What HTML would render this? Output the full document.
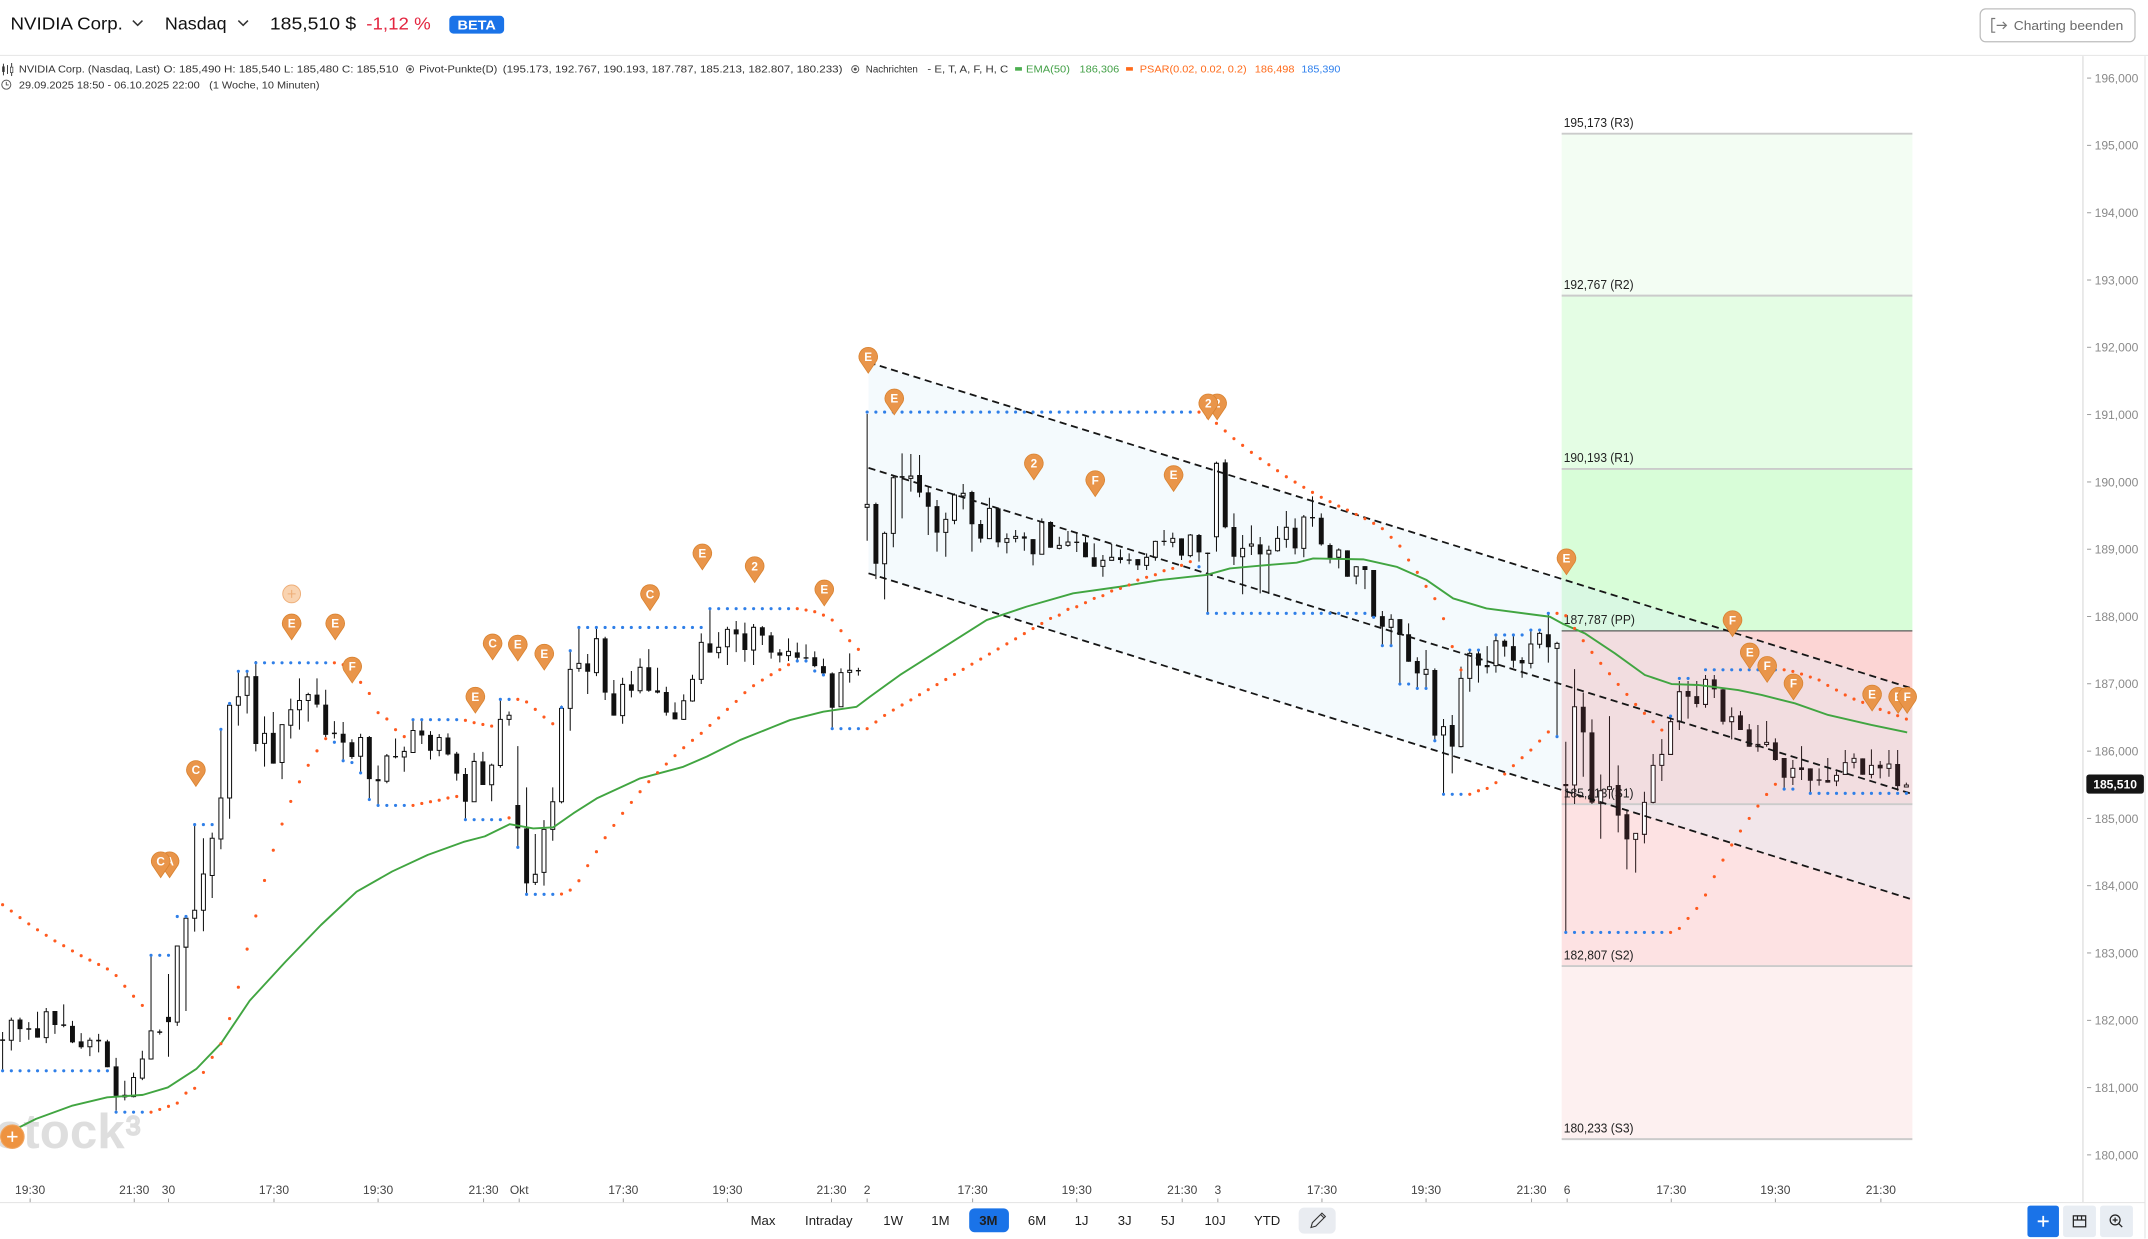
<!DOCTYPE html>
<html><head><meta charset="utf-8"><title>NVIDIA Chart</title><style>
html,body{margin:0;padding:0;background:#fff;overflow:hidden;width:2148px;height:1239px}
svg{display:block;font-family:"Liberation Sans",Arial,sans-serif}
.pin use{fill:#e9954a;stroke:#d98331;stroke-width:.6}
.pin text{fill:#fff;font-weight:bold;font-size:8.6px;text-anchor:middle}
.ya text{font-size:9px;fill:#8a8a8a}
.xa text{font-size:8.8px;fill:#444;text-anchor:middle}
.tb text{font-size:9.6px;fill:#1f1f1f;text-anchor:middle}
</style></head><body>
<svg width="2148" height="1239" viewBox="0 0 1568 904.4" preserveAspectRatio="none" xmlns="http://www.w3.org/2000/svg">
<defs><path id="pin" d="M-6.2,2.8A6.8,6.8 0 1 1 6.2,2.8L0,12Z"/></defs>
<rect x="0" y="0" width="1568" height="905" fill="#fff"/>

<!-- header -->
<text x="7.7" y="21.4" font-size="13" fill="#111" textLength="82" lengthAdjust="spacingAndGlyphs">NVIDIA Corp.</text>
<polyline points="97,15 100.5,18.5 104,15" fill="none" stroke="#333" stroke-width="1.1"/>
<text x="120.4" y="21.4" font-size="13" fill="#111" textLength="45" lengthAdjust="spacingAndGlyphs">Nasdaq</text>
<polyline points="174,15 177.5,18.5 181,15" fill="none" stroke="#333" stroke-width="1.1"/>
<text x="197" y="21.4" font-size="13" fill="#111" textLength="63" lengthAdjust="spacingAndGlyphs">185,510 $</text>
<text x="267.4" y="21.4" font-size="13" fill="#e3253f" textLength="47" lengthAdjust="spacingAndGlyphs">-1,12 %</text>
<rect x="328" y="11.5" width="40" height="13" rx="3" fill="#1a73e8"/>
<text x="334" y="21.6" font-size="9.5" font-weight="bold" fill="#fff" textLength="28" lengthAdjust="spacingAndGlyphs">BETA</text>
<rect x="1445.5" y="6.5" width="113" height="24" rx="4" fill="#fff" stroke="#bdbdbd" stroke-width="0.9"/>
<path d="M1456.5,13.5h-2.5v10h2.5" fill="none" stroke="#777" stroke-width="0.9"/>
<path d="M1457.5,18.5h7M1462,16l2.6,2.5-2.6,2.5" fill="none" stroke="#777" stroke-width="0.9"/>
<text x="1470" y="22" font-size="9.5" fill="#6b6b6b" textLength="80" lengthAdjust="spacingAndGlyphs">Charting beenden</text>
<line x1="0" y1="40.5" x2="1568" y2="40.5" stroke="#e8e8e8" stroke-width="0.8"/>

<!-- legend -->
<g stroke="#333" stroke-width="0.7"><line x1="2.5" y1="46.5" x2="2.5" y2="55"/><line x1="5.5" y1="47.5" x2="5.5" y2="54"/><line x1="8.5" y1="46" x2="8.5" y2="55.5"/></g>
<rect x="1.6" y="48.5" width="1.8" height="4" fill="#333"/><rect x="7.6" y="49" width="1.8" height="4" fill="#fff" stroke="#333" stroke-width=".5"/>
<g font-size="7.3" fill="#333">
<text x="13.8" y="53" textLength="103" lengthAdjust="spacingAndGlyphs">NVIDIA Corp. (Nasdaq, Last)</text>
<text x="119.4" y="53" textLength="171.5" lengthAdjust="spacingAndGlyphs">O: 185,490  H: 185,540  L: 185,480  C: 185,510</text>
<text x="306" y="53" textLength="57" lengthAdjust="spacingAndGlyphs">Pivot-Punkte(D)</text>
<text x="367" y="53" textLength="248" lengthAdjust="spacingAndGlyphs">(195.173,  192.767,  190.193,  187.787,  185.213,  182.807,  180.233)</text>
<text x="632" y="53" textLength="38" lengthAdjust="spacingAndGlyphs">Nachrichten</text>
<text x="677" y="53" textLength="59" lengthAdjust="spacingAndGlyphs">- E, T, A, F, H, C</text>
<text x="749" y="53" fill="#43a047" textLength="32" lengthAdjust="spacingAndGlyphs">EMA(50)</text>
<text x="788" y="53" fill="#43a047" textLength="29" lengthAdjust="spacingAndGlyphs">186,306</text>
<text x="832" y="53" fill="#ff6a1a" textLength="78" lengthAdjust="spacingAndGlyphs">PSAR(0.02, 0.02, 0.2)</text>
<text x="916" y="53" fill="#ff6a1a" textLength="29" lengthAdjust="spacingAndGlyphs">186,498</text>
<text x="950" y="53" fill="#2f80ed" textLength="28.5" lengthAdjust="spacingAndGlyphs">185,390</text>
<text x="13.8" y="64.5" textLength="132" lengthAdjust="spacingAndGlyphs">29.09.2025 18:50 - 06.10.2025 22:00</text>
<text x="152.7" y="64.5" textLength="80.5" lengthAdjust="spacingAndGlyphs">(1 Woche, 10 Minuten)</text>
</g>
<g fill="none" stroke="#555" stroke-width="0.7"><circle cx="299.3" cy="50.5" r="2.6"/><circle cx="624.3" cy="50.5" r="2.6"/><circle cx="4.6" cy="61.8" r="3.3"/><path d="M4.6,59.8v2.2h1.8"/></g>
<circle cx="299.3" cy="50.5" r="1.1" fill="#555"/><circle cx="624.3" cy="50.5" r="1.1" fill="#555"/>
<rect x="741" y="49" width="5" height="2.6" fill="#4caf50"/>
<rect x="822" y="49" width="5" height="2.6" fill="#ff6a1a"/>

<!-- watermark -->
<text x="-3" y="838" font-size="36" font-weight="bold" fill="#dedede">stock</text>
<text x="92" y="828" font-size="19" fill="none" stroke="#dedede" stroke-width="1.6">3</text>

<!-- pivot zones -->
<rect x="1140" y="97.6" width="256" height="118.2" fill="#f3fdf3"/>
<rect x="1140" y="215.8" width="256" height="126.5" fill="#e4fde4"/>
<rect x="1140" y="342.3" width="256" height="118.2" fill="#d8fdd8"/>
<rect x="1140" y="460.5" width="256" height="126.5" fill="#fcd5d4"/>
<rect x="1140" y="587" width="256" height="118.2" fill="#fde2e3"/>
<rect x="1140" y="705.2" width="256" height="126.3" fill="#fdf0f0"/>
<polygon points="634,264.5 1396,502.6 1396,656.6 634,418.5" fill="rgba(222,238,248,0.32)"/>
<g stroke="#cbcbcb" stroke-width="1.4">
<line x1="1140" y1="97.6" x2="1396" y2="97.6"/><line x1="1140" y1="215.8" x2="1396" y2="215.8"/><line x1="1140" y1="342.3" x2="1396" y2="342.3"/>
<line x1="1140" y1="587" x2="1396" y2="587"/><line x1="1140" y1="705.2" x2="1396" y2="705.2"/><line x1="1140" y1="831.5" x2="1396" y2="831.5"/>
</g>
<line x1="1140" y1="460.5" x2="1396" y2="460.5" stroke="#5a5a5a" stroke-width="0.9"/>
<g font-size="9.3" fill="#222">
<text x="1141.5" y="92.6" textLength="51" lengthAdjust="spacingAndGlyphs">195,173 (R3)</text>
<text x="1141.5" y="210.9" textLength="51" lengthAdjust="spacingAndGlyphs">192,767 (R2)</text>
<text x="1141.5" y="337.4" textLength="51" lengthAdjust="spacingAndGlyphs">190,193 (R1)</text>
<text x="1141.5" y="455.6" textLength="52" lengthAdjust="spacingAndGlyphs">187,787 (PP)</text>
<text x="1141.5" y="582.2" textLength="51" lengthAdjust="spacingAndGlyphs">185,213 (S1)</text>
<text x="1141.5" y="700.4" textLength="51" lengthAdjust="spacingAndGlyphs">182,807 (S2)</text>
<text x="1141.5" y="826.7" textLength="51" lengthAdjust="spacingAndGlyphs">180,233 (S3)</text>
</g>

<!-- candles: wicks -->
<path fill="none" stroke="#111" stroke-width="0.75" d="M1.9 753.3V781.1M8.25 742.8V766.8M14.6 742.8V760.6M21 746.1V759M27.4 738.5V757.4M33.75 735.8V761.4M40.1 738V754.7M46.5 733.1V749.8M52.9 745.2V761.4M59.25 754.1V765.5M65.6 757.4V770.9M72 754.7V768.2M78.4 759V779M84.75 772.2V810.7M91.1 788.9V803.2M97.5 783V801M103.9 767V788.4M110.25 697.5V773.5M116.6 751.5V755.2M123 711V771.4M129.4 690.5V748.8M135.75 670.3V738M142.1 601.9V680M148.5 611.9V679.8M154.9 607.8V655.5M161.25 532.4V619.9M167.6 513.5V597.6M174 490V529.7M180.4 490V520.8M186.75 482.5V548.5M193.1 522.9V559.6M199.5 519.7V557.4M205.9 528.9V568.7M212.25 510V539.1M218.6 495.2V532.6M225 505.7V526.7M231.4 495.2V516.4M237.75 503.5V538M244.1 526.4V539.1M250.5 527V554.7M256.9 539.6V553.9M263.25 535.6V564.2M269.6 537.2V584.4M276 558.8V587.6M282.4 550.4V571.7M288.75 539.1V553.6M295.1 545V563.3M301.5 525.1V549.3M307.9 525.6V543.1M314.25 533.7V554.4M320.6 535.9V552M327 535.3V551.5M333.4 548.8V569.8M339.75 560.6V598.4M346.1 549.6V585.4M352.5 548.8V573M358.9 557.4V584.9M365.25 511.3V560.4M371.6 519.4V529.7M378 544.6V618M384.4 574.7V652.6M390.75 608.8V646M397.1 598.6V646.5M403.5 574.7V613.7M409.9 515.1V586.4M416.25 474.5V533.4M422.6 457.9V490.3M429 477.4V506.6M435.4 457.9V493.5M441.75 464.8V511M448.1 496.4V522.4M454.5 494.7V528.3M460.9 489.8V509M467.25 480.6V506.1M473.6 473.8V504.9M480 487.4V506.1M486.4 501.3V522.4M492.75 512.7V525.1M499.1 506.9V525.6M505.5 492.5V512.2M511.9 462.3V499.3M518.25 444.6V476.4M524.6 461.4V480.6M531 457.5V485.4M537.4 453.3V476M543.75 454.5V483M550.1 455.5V485.4M556.5 457V470.8M562.9 461.4V480.8M569.25 473.8V483.5M575.6 466V482.5M582 469.1V482.5M588.4 470.4V481.3M594.75 475.5V487.1M601.1 480.8V492.7M607.5 490.8V531.9M613.9 487.9V515.9M620.25 476.9V498.3M626.6 487.4V493.2M633 302.2V394.7M639.4 366.9V422.7M645.75 388.1V437.5M652.1 346.7V399.5M658.5 330.9V378.4M664.9 331.4V358.9M671.25 332.1V363M677.6 355.3V390.5M684 365V402.7M690.4 374.2V406.4M696.75 360.1V382.7M703.1 353.3V371.8M709.5 358.2V402.7M715.9 379.6V396.1M722.25 363.3V393.5M728.6 370.6V399.5M735 389.3V403.9M741.4 386.9V395.9M747.75 388.6V402M754.1 393.5V412.7M760.5 378.4V404.6M766.9 380.6V399.8M773.25 391.8V401M779.6 387.6V399.1M786 389.3V402.9M792.4 391.8V406.8M798.75 396.6V413.7M805.1 405.1V421M811.5 397.1V409M817.9 401V411.2M824.25 403.9V411.9M830.6 408.1V416.1M837 403.9V416.1M843.4 394.7V409.3M849.75 386.9V398.3M856.1 388.8V399.5M862.5 393V408.8M868.9 389.8V406.8M875.25 389.8V410M881.6 403.4V447.7M888 337V402.7M894.4 335.3V385.7M900.75 374.7V412.4M907.1 390.5V433.8M913.5 383.5V405.1M919.9 392V433.1M926.25 398.3V433.6M932.6 384V402.7M939 373V399.8M945.4 378.4V404.7M951.75 375.9V406.8M958.1 362.3V384.5M964.5 374.7V398.3M970.9 396.6V411.2M977.25 400.3V414.9M983.6 401.7V421M990 413.2V426.5M996.4 413.2V430M1002.75 416.1V451.4M1009.1 446V470.8M1015.5 448.4V470.8M1021.9 451.9V499.3M1028.25 455V483M1034.6 479.8V502.5M1041 474.5V502.5M1047.4 487.9V540.7M1053.75 524.8V579.8M1060.1 521.9V564.5M1066.5 486.6V545.5M1072.9 474V504.9M1079.25 474.5V498.3M1085.6 471.6V491.5M1092 463.5V491M1098.4 466.7V479.3M1104.75 464.3V487.4M1111.1 479.8V494.7M1117.5 459.9V487.9M1123.9 461.1V473.3M1130.25 447.7V483.7M1136.6 468.4V537.7"/>
<path fill="none" stroke="#2a1a1d" stroke-width="0.75" d="M1143 541.4V680.6M1149.4 488.4V586.9M1155.75 505.6V567M1162.1 525.1V586.9M1168.5 565.3V612.2M1174.9 522.7V583M1181.25 558.7V607.6M1187.6 590.8V634.6M1194 608.3V637M1200.4 577.9V615.6M1206.75 550.4V586.4M1213.1 539.5V570.1M1219.5 521.9V550.7M1225.9 497.1V532.9M1232.25 497.1V524.6M1238.6 497.1V516.3M1245 492.7V516.6M1251.4 492.7V509.5M1257.75 502V528.8M1264.1 516.3V539.7M1270.5 519V532.9M1276.9 528.5V545.1M1283.25 529.2V548.7M1289.6 526.3V545.1M1296 539V555.3M1302.4 553.3V575M1308.75 554.8V573M1315.1 544.6V569.4M1321.5 560.9V579.1M1327.9 560.9V573.5M1334.25 553.3V571.3M1340.6 563.1V573.8M1347 547.5V565.3M1353.4 549.9V560.9M1359.75 553.6V565.5M1366.1 547V568.2M1372.5 555.5V568.2M1378.9 547.5V567M1385.25 547.5V577.2M1391.6 571.3V574.7"/>
<!-- white bodies -->
<path fill="#fff" stroke="#111" stroke-width="0.75" d="M6.8 744.7h2.9V759.3h-2.9zM32.3 738.5h2.9V757.4h-2.9zM64.15 759.3h2.9V764.1h-2.9zM96.05 786.5h2.9V800.5h-2.9zM102.45 773h2.9V787h-2.9zM108.8 752.5h2.9V773h-2.9zM127.95 690.5h2.9V746.1h-2.9zM134.3 670.3h2.9V691.4h-2.9zM140.65 664.4h2.9V670.3h-2.9zM147.05 638h2.9V664.4h-2.9zM153.45 611.9h2.9V639.1h-2.9zM159.8 582.5h2.9V612.4h-2.9zM166.15 514.8h2.9V582.5h-2.9zM172.55 508.6h2.9V514.8h-2.9zM178.95 494.1h2.9V507.6h-2.9zM191.65 535.3h2.9V542.6h-2.9zM204.45 528.9h2.9V556.6h-2.9zM210.8 518.1h2.9V529.4h-2.9zM217.15 511.3h2.9V518.1h-2.9zM223.55 507h2.9V511.3h-2.9zM261.8 538.3h2.9V552h-2.9zM280.95 551.8h2.9V570.3h-2.9zM293.65 548.5h2.9V552.6h-2.9zM300.05 533.2h2.9V549.3h-2.9zM319.15 538.3h2.9V547.7h-2.9zM344.65 555.8h2.9V585.2h-2.9zM357.45 558.5h2.9V572.8h-2.9zM363.8 525.1h2.9V558.8h-2.9zM370.15 522.1h2.9V525.1h-2.9zM389.3 638.2h2.9V644.1h-2.9zM395.65 605.4h2.9V636.8h-2.9zM402.05 585.2h2.9V605.4h-2.9zM408.45 517.1h2.9V585.2h-2.9zM414.8 488.6h2.9V517.1h-2.9zM421.15 484.2h2.9V487.9h-2.9zM433.95 466.2h2.9V491h-2.9zM453.05 499.6h2.9V522.4h-2.9zM465.8 487.1h2.9V504.2h-2.9zM497.65 511.5h2.9V525.1h-2.9zM504.05 495.9h2.9V511.7h-2.9zM510.45 468.9h2.9V495.9h-2.9zM523.15 472.5h2.9V476.4h-2.9zM529.55 459.4h2.9V472.1h-2.9zM548.65 457.9h2.9V474.5h-2.9zM574.15 475.5h2.9V478.6h-2.9zM612.45 491h2.9V515.9h-2.9zM618.8 489.3h2.9V490.8h-2.9zM631.55 368.2h2.9V370.3h-2.9zM644.3 389.3h2.9V411.5h-2.9zM650.65 348.7h2.9V389.3h-2.9zM663.45 347.5h2.9V349.2h-2.9zM688.95 379.1h2.9V388.6h-2.9zM695.3 361.3h2.9V379.8h-2.9zM701.65 360.1h2.9V362.1h-2.9zM720.8 371.1h2.9V393.2h-2.9zM733.55 393.2h2.9V395.9h-2.9zM739.95 391.5h2.9V393h-2.9zM759.05 380.8h2.9V404.6h-2.9zM771.8 398.1h2.9V400.3h-2.9zM778.15 395.6h2.9V398.1h-2.9zM803.65 409h2.9V413.4h-2.9zM810.05 406.8h2.9V409h-2.9zM835.55 406.8h2.9V412.7h-2.9zM841.95 395.2h2.9V406.8h-2.9zM854.65 393h2.9V395.9h-2.9zM867.45 390.5h2.9V405.6h-2.9zM886.55 338.2h2.9V391.8h-2.9zM905.65 400.3h2.9V406.4h-2.9zM912.05 397.1h2.9V398.6h-2.9zM924.8 401.7h2.9V404.4h-2.9zM931.15 393h2.9V402h-2.9zM937.55 384.9h2.9V393.7h-2.9zM950.3 377.4h2.9V400.3h-2.9zM975.8 401.5h2.9V406.8h-2.9zM988.55 413.7h2.9V420.5h-2.9zM1014.05 452.1h2.9V457.9h-2.9zM1039.55 488.6h2.9V492.2h-2.9zM1052.3 530.4h2.9V536.5h-2.9zM1065.05 495.2h2.9V545h-2.9zM1071.45 476.9h2.9V495.2h-2.9zM1090.55 467.7h2.9V485.9h-2.9zM1116.05 470.1h2.9V484.2h-2.9zM1122.45 462.3h2.9V470.3h-2.9zM1135.15 469.6h2.9V473.3h-2.9z"/>
<path fill="#fff" stroke="#2a1a1d" stroke-width="0.75" d="M1147.95 515.9h2.9V573h-2.9zM1167.05 577.2h2.9V586.4h-2.9zM1173.45 574.3h2.9V576.2h-2.9zM1192.55 608.3h2.9V612.7h-2.9zM1198.95 585.7h2.9V609h-2.9zM1205.3 558.7h2.9V585.7h-2.9zM1211.65 550.7h2.9V558.7h-2.9zM1218.05 526.8h2.9V550.7h-2.9zM1224.45 504.9h2.9V526.8h-2.9zM1243.55 495.9h2.9V514.2h-2.9zM1262.65 523.2h2.9V526.8h-2.9zM1281.8 543.4h2.9V545.1h-2.9zM1288.15 541.9h2.9V543.4h-2.9zM1307.3 560.9h2.9V567.4h-2.9zM1339.15 566h2.9V570.1h-2.9zM1345.55 556.7h2.9V565.3h-2.9zM1351.95 553.6h2.9V556.5h-2.9zM1364.65 558.7h2.9V565.3h-2.9zM1377.45 557.7h2.9V560.9h-2.9zM1390.15 573h2.9V574.5h-2.9z"/>
<!-- black bodies -->
<path fill="#111" d="M0.1 758.7h3.6V759.8h-3.6zM12.8 744.2h3.6V751.2h-3.6zM19.2 750.6h3.6V751.7h-3.6zM25.6 750.6h3.6V757.4h-3.6zM38.3 738h3.6V748.2h-3.6zM44.7 747.7h3.6V748.8h-3.6zM51.1 748.8h3.6V760.9h-3.6zM57.45 760.1h3.6V764.4h-3.6zM70.2 759h3.6V760.1h-3.6zM76.6 760.1h3.6V779h-3.6zM82.95 778.4h3.6V799.9h-3.6zM89.3 799.1h3.6V801h-3.6zM114.8 752.8h3.6V753.9h-3.6zM121.2 742.3h3.6V746.1h-3.6zM184.95 493.5h3.6V543.1h-3.6zM197.7 535h3.6V557.4h-3.6zM229.6 507h3.6V514.3h-3.6zM235.95 514.3h3.6V536.4h-3.6zM242.3 534.8h3.6V535.9h-3.6zM248.7 535.6h3.6V542.1h-3.6zM255.1 541.8h3.6V552.6h-3.6zM267.8 538h3.6V568.7h-3.6zM274.2 568.7h3.6V570.3h-3.6zM286.95 551.8h3.6V552.8h-3.6zM306.1 533.2h3.6V536.9h-3.6zM312.45 536.4h3.6V548h-3.6zM325.2 538.3h3.6V550.7h-3.6zM331.6 550.1h3.6V564.7h-3.6zM337.95 565h3.6V585.2h-3.6zM350.7 555.8h3.6V573h-3.6zM376.2 587.6h3.6V604.7h-3.6zM382.6 604.7h3.6V644.8h-3.6zM427.2 484.2h3.6V490.3h-3.6zM439.95 466h3.6V505.6h-3.6zM446.3 506.1h3.6V522.4h-3.6zM459.1 499.6h3.6V504.2h-3.6zM471.8 487.1h3.6V504.2h-3.6zM478.2 503.9h3.6V505.6h-3.6zM484.6 505.1h3.6V520.2h-3.6zM490.95 520h3.6V525.1h-3.6zM516.45 469.6h3.6V476.4h-3.6zM535.6 459.4h3.6V463.1h-3.6zM541.95 462.3h3.6V474.5h-3.6zM554.7 457.9h3.6V464h-3.6zM561.1 463.8h3.6V476.4h-3.6zM567.45 476.2h3.6V478.6h-3.6zM580.2 476.2h3.6V480.1h-3.6zM586.6 479.8h3.6V480.8h-3.6zM592.95 479.8h3.6V486.2h-3.6zM599.3 486.2h3.6V491.5h-3.6zM605.7 491.5h3.6V516.6h-3.6zM624.8 489.1h3.6V490.1h-3.6zM637.6 367.9h3.6V411.5h-3.6zM656.7 347.5h3.6V348.7h-3.6zM669.45 346.7h3.6V359.6h-3.6zM675.8 359.4h3.6V369.9h-3.6zM682.2 369.4h3.6V388.8h-3.6zM707.7 359.1h3.6V382.7h-3.6zM714.1 382.5h3.6V393.2h-3.6zM726.8 371.1h3.6V395.9h-3.6zM745.95 391.5h3.6V393.2h-3.6zM752.3 393.5h3.6V404.6h-3.6zM765.1 381h3.6V399.8h-3.6zM784.2 395.4h3.6V396.4h-3.6zM790.6 395.9h3.6V406.8h-3.6zM796.95 406.8h3.6V413.7h-3.6zM816.1 406.8h3.6V408.8h-3.6zM822.45 408.3h3.6V409.3h-3.6zM828.8 408.1h3.6V412.7h-3.6zM847.95 394.7h3.6V395.6h-3.6zM860.7 393h3.6V405.6h-3.6zM873.45 390.5h3.6V403.2h-3.6zM879.8 403.4h3.6V404.4h-3.6zM892.6 337.5h3.6V384.9h-3.6zM898.95 384.7h3.6V406.4h-3.6zM918.1 397.4h3.6V404.7h-3.6zM943.6 385.2h3.6V400.3h-3.6zM956.3 377.4h3.6V378.4h-3.6zM962.7 377.9h3.6V397.4h-3.6zM969.1 397.8h3.6V407.8h-3.6zM981.8 401.7h3.6V421h-3.6zM994.6 413.2h3.6V416.1h-3.6zM1000.95 416.1h3.6V450.2h-3.6zM1007.3 449.7h3.6V457.5h-3.6zM1020.1 451.9h3.6V463.5h-3.6zM1026.45 463h3.6V483h-3.6zM1032.8 482.5h3.6V491.5h-3.6zM1045.6 489.1h3.6V537h-3.6zM1058.3 529.2h3.6V545h-3.6zM1077.45 476.9h3.6V485.9h-3.6zM1083.8 485.4h3.6V487.1h-3.6zM1096.6 467.7h3.6V472h-3.6zM1102.95 471.6h3.6V482.3h-3.6zM1109.3 481.8h3.6V484.2h-3.6zM1128.45 463h3.6V472.5h-3.6z"/>
<path fill="#2a1a1d" d="M1141.2 572.3h3.6V573.8h-3.6zM1153.95 515.9h3.6V534.6h-3.6zM1160.3 534.6h3.6V585.9h-3.6zM1179.45 573h3.6V595.4h-3.6zM1185.8 594.4h3.6V612.7h-3.6zM1230.45 504.4h3.6V508.6h-3.6zM1236.8 508.1h3.6V513.9h-3.6zM1249.6 495.9h3.6V503.2h-3.6zM1255.95 503.2h3.6V526.8h-3.6zM1268.7 522.2h3.6V532.9h-3.6zM1275.1 532.4h3.6V545.1h-3.6zM1294.2 541.9h3.6V554.8h-3.6zM1300.6 553.3h3.6V567.7h-3.6zM1313.3 560.1h3.6V562.1h-3.6zM1319.7 560.9h3.6V569.9h-3.6zM1326.1 568.9h3.6V569.9h-3.6zM1332.45 569.4h3.6V571.3h-3.6zM1357.95 553.6h3.6V565.5h-3.6zM1370.7 558.2h3.6V560.9h-3.6zM1383.45 557.7h3.6V573.8h-3.6z"/>

<!-- channel lines -->
<g stroke="#161616" stroke-width="1.3" stroke-dasharray="5.2 3.4" fill="none">
<line x1="634" y1="264.5" x2="1396" y2="502.6"/>
<line x1="634" y1="341.5" x2="1396" y2="579.6"/>
<line x1="634" y1="418.5" x2="1396" y2="656.6"/>
</g>

<!-- EMA -->
<polyline fill="none" stroke="#41a541" stroke-width="1.4" stroke-linejoin="round" points="0,830 26.3,816.7 52.3,807.2 78.3,801 104.3,799.2 122.5,793.8 143.3,780.3 161.5,761.4 182.3,730.4 208.3,702.1 234.3,675.2 260.3,650.9 286.3,636.1 312.3,624 338.3,614.6 353.9,610.5 372.1,601.6 389.3,604.7 403.9,603.9 418.5,593.7 435.6,582.8 467.2,568.2 498.8,559.7 515.9,552.3 540.2,540.2 564.5,530.5 576.7,525.6 601,519.5 625.3,515.9 635,508.6 657,492.7 720.2,452.6 749.4,442.8 783.4,433.1 817.5,428.3 846.7,423.4 880.7,419.7 897.8,414.9 919.7,412.9 946.5,410.7 958.6,407.6 995.1,408.3 1019.5,413.7 1041.4,423.4 1060.8,436.8 1085.1,444.1 1131.4,450.2 1141.1,455.5 1156.9,462.3 1178.8,476.9 1200.7,492.7 1220.2,499.3 1239.6,500 1268.8,503.7 1285.9,507.3 1310.2,513.4 1334.5,521.9 1366.1,529.2 1392.2,534.6"/>

<!-- PSAR / stop dots -->
<g stroke="#2f7fe8" stroke-width="2.3" stroke-linecap="round" stroke-dasharray="0 6.375" fill="none">
<line x1="110.25" y1="697.3" x2="123.05" y2="697.3"/>
<line x1="129.4" y1="669" x2="135.8" y2="669"/>
<line x1="142.1" y1="601.9" x2="154.95" y2="601.9"/>
<line x1="174" y1="490" x2="180.45" y2="490"/>
<line x1="186.75" y1="483.8" x2="237.8" y2="483.8"/>
<line x1="301.5" y1="525.3" x2="333.45" y2="525.3"/>
<line x1="365.25" y1="510.5" x2="371.65" y2="510.5"/>
<line x1="422.6" y1="458" x2="511.95" y2="458"/>
<line x1="518.25" y1="444.3" x2="575.65" y2="444.3"/>
<line x1="633" y1="300.8" x2="868.95" y2="300.8"/>
<line x1="1072.9" y1="474.5" x2="1085.65" y2="474.5"/>
<line x1="1092" y1="463.5" x2="1111.15" y2="463.5"/>
<line x1="1117.5" y1="459.9" x2="1123.95" y2="459.9"/>
<line x1="1225.9" y1="495.2" x2="1238.65" y2="495.2"/>
<line x1="1245" y1="488.9" x2="1296.05" y2="488.9"/>
<line x1="1.9" y1="781.6" x2="78.45" y2="781.6"/>
<line x1="84.75" y1="811.8" x2="103.95" y2="811.8"/>
<line x1="276" y1="587.9" x2="295.15" y2="587.9"/>
<line x1="339.75" y1="598.3" x2="365.3" y2="598.3"/>
<line x1="384.4" y1="652.8" x2="403.55" y2="652.8"/>
<line x1="582" y1="482.5" x2="588.45" y2="482.5"/>
<line x1="607.5" y1="531.9" x2="626.65" y2="531.9"/>
<line x1="881.6" y1="447.7" x2="996.45" y2="447.7"/>
<line x1="1009.1" y1="471.3" x2="1015.55" y2="471.3"/>
<line x1="1021.9" y1="499.3" x2="1028.3" y2="499.3"/>
<line x1="1034.6" y1="502.5" x2="1041.05" y2="502.5"/>
<line x1="1053.75" y1="579.8" x2="1066.55" y2="579.8"/>
<line x1="1143" y1="680.6" x2="1213.15" y2="680.6"/>
<line x1="1302.4" y1="576" x2="1315.15" y2="576"/>
<line x1="1321.5" y1="579.1" x2="1391.65" y2="579.1"/>
</g>
<path fill="none" stroke="#2f7fe8" stroke-width="2.3" stroke-linecap="round" d="M161.25 532.4h0M167.6 513.5h0M409.9 516.3h0M416.25 475h0M1130.25 447.7h0M1219.5 522.7h0M244.1 541.8h0M250.5 555.3h0M256.9 556.6h0M263.25 564.2h0M269.6 583.6h0M378 618.5h0M594.75 489.8h0M601.1 492.7h0M875.25 413.7h0M1002.75 450.6h0M1047.4 540.7h0M1136.6 537.7h0"/>
<path fill="none" stroke="#ff5a1f" stroke-width="2.3" stroke-linecap="round" d="M1.9 660.4h0M8.25 665h0M14.6 669.8h0M21 674.4h0M27.4 678.7h0M33.75 682.7h0M40.1 686.8h0M46.5 690.3h0M52.9 694.1h0M59.25 697.6h0M65.6 700.8h0M72 704h0M78.4 707.3h0M84.75 712.1h0M91.1 719.9h0M97.5 727.2h0M103.9 733.9h0M244.1 483.8h0M250.5 485.2h0M256.9 491.9h0M263.25 498.1h0M269.6 506.2h0M276 520.2h0M282.4 524.8h0M288.75 532.6h0M295.1 537.7h0M339.75 525.8h0M346.1 527.5h0M352.5 528.8h0M358.9 530h0M378 510.5h0M384.4 512.4h0M390.75 517.8h0M397.1 523.4h0M403.5 528.3h0M582 444.3h0M588.4 445.3h0M594.75 446.5h0M601.1 449h0M607.5 452.6h0M613.9 460.4h0M620.25 467.7h0M626.6 474h0M875.25 300.8h0M881.6 304.6h0M888 309h0M894.4 314.6h0M900.75 320.2h0M907.1 325.1h0M913.5 330.2h0M919.9 334.8h0M926.25 339.2h0M932.6 343.6h0M939 348h0M945.4 351.9h0M951.75 355.7h0M958.1 359.4h0M964.5 363h0M970.9 366.2h0M977.25 369.4h0M983.6 372.3h0M990 375.5h0M996.4 378.6h0M1002.75 382h0M1009.1 385.9h0M1015.5 392.2h0M1021.9 398.6h0M1028.25 408.8h0M1034.6 417.8h0M1041 428h0M1047.4 437h0M1053.75 451.6h0M1060.1 472h0M1066.5 489h0M1136.6 447.7h0M1143 449.4h0M1149.4 458.7h0M1155.75 467.7h0M1162.1 476.2h0M1168.5 484.2h0M1174.9 491.8h0M1181.25 499.6h0M1187.6 506.9h0M1194 514.2h0M1200.4 520.7h0M1206.75 526.8h0M1213.1 532.9h0M1302.4 488.9h0M1308.75 490.1h0M1315.1 492h0M1321.5 494.2h0M1327.9 496.4h0M1334.25 500.3h0M1340.6 503.7h0M1347 507.3h0M1353.4 510.3h0M1359.75 512.7h0M1366.1 515.4h0M1372.5 517.8h0M1378.9 520.2h0M1385.25 522.4h0M1391.6 524.9h0M110.25 811.8h0M116.6 809.8h0M123 807.6h0M129.4 805.2h0M135.75 797.9h0M142.1 794.4h0M148.5 782.8h0M154.9 771.8h0M161.25 761.8h0M167.6 743.5h0M174 720.6h0M180.4 692.8h0M186.75 668.6h0M193.1 642.7h0M199.5 620.6h0M205.9 601.5h0M212.25 585h0M218.6 570.7h0M225 558.6h0M231.4 548.1h0M237.75 539.2h0M301.5 587.9h0M307.9 586.5h0M314.25 585.2h0M320.6 584.1h0M327 582.5h0M333.4 581.4h0M371.6 597h0M409.9 652.6h0M416.25 649.7h0M422.6 642.9h0M429 631.9h0M435.4 621.7h0M441.75 611.5h0M448.1 602.5h0M454.5 593.7h0M460.9 585.7h0M467.25 577.9h0M473.6 570.6h0M480 564h0M486.4 557.7h0M492.75 551.6h0M499.1 545.8h0M505.5 540.4h0M511.9 535.3h0M518.25 529.5h0M524.6 524.1h0M531 517.8h0M537.4 512h0M543.75 505.6h0M550.1 500.5h0M556.5 496.4h0M562.9 492.5h0M569.25 488.8h0M575.6 485.2h0M633 531.9h0M639.4 527h0M645.75 522.2h0M652.1 518.3h0M658.5 514.6h0M664.9 510.9h0M671.25 507.1h0M677.6 503.4h0M684 499.7h0M690.4 496h0M696.75 492.3h0M703.1 488.6h0M709.5 484.8h0M715.9 481.1h0M722.25 477.4h0M728.6 473.7h0M735 470h0M741.4 466.3h0M747.75 462.5h0M754.1 458.8h0M760.5 455.1h0M766.9 451.4h0M773.25 449h0M779.6 444.8h0M786 442.9h0M792.4 439.9h0M798.75 436.8h0M805.1 434.8h0M811.5 431.4h0M817.9 429.5h0M824.25 427h0M830.6 423.4h0M837 421.4h0M843.4 419.5h0M849.75 416.6h0M856.1 414.9h0M862.5 412.7h0M868.9 410h0M1072.9 579.8h0M1079.25 577.2h0M1085.6 575.5h0M1092 571.3h0M1098.4 565h0M1104.75 558.9h0M1111.1 553.1h0M1117.5 547.5h0M1123.9 540.9h0M1130.25 534.3h0M1219.5 680.6h0M1225.9 677.7h0M1232.25 670.4h0M1238.6 663.1h0M1245 653.3h0M1251.4 639.9h0M1257.75 627.8h0M1264.1 616.8h0M1270.5 606.6h0M1276.9 597.4h0M1283.25 588.4h0M1289.6 579.9h0M1296 572.5h0"/>

<!-- pins -->
<circle cx="212.9" cy="433.5" r="6.5" fill="#f9d3b0" stroke="#eeae78" stroke-width="0.7"/>
<path d="M210,433.5h5.8M212.9,430.6v5.8" stroke="#eeae78" stroke-width="0.8"/>
<g class="pin"><use href="#pin" x="212.9" y="455"/><text x="212.9" y="458.1">E</text></g>
<g class="pin"><use href="#pin" x="244.7" y="455"/><text x="244.7" y="458.1">E</text></g>
<g class="pin"><use href="#pin" x="257.1" y="486.5"/><text x="257.1" y="489.6">F</text></g>
<g class="pin"><use href="#pin" x="143" y="562"/><text x="143" y="565.1">C</text></g>
<g class="pin"><use href="#pin" x="123.8" y="628.6"/><text x="123.8" y="631.7">A</text></g>
<g class="pin"><use href="#pin" x="117.3" y="628.6"/><text x="117.3" y="631.7">C</text></g>
<g class="pin"><use href="#pin" x="359.6" y="469.6"/><text x="359.6" y="472.7">C</text></g>
<g class="pin"><use href="#pin" x="378" y="470.4"/><text x="378" y="473.5">E</text></g>
<g class="pin"><use href="#pin" x="397.3" y="477.1"/><text x="397.3" y="480.2">E</text></g>
<g class="pin"><use href="#pin" x="347" y="508.5"/><text x="347" y="511.6">E</text></g>
<g class="pin"><use href="#pin" x="474.5" y="433.6"/><text x="474.5" y="436.7">C</text></g>
<g class="pin"><use href="#pin" x="512.7" y="403.9"/><text x="512.7" y="407">E</text></g>
<g class="pin"><use href="#pin" x="550.9" y="413.2"/><text x="550.9" y="416.3">2</text></g>
<g class="pin"><use href="#pin" x="601.7" y="430.2"/><text x="601.7" y="433.3">E</text></g>
<g class="pin"><use href="#pin" x="633.8" y="260.4"/><text x="633.8" y="263.5">E</text></g>
<g class="pin"><use href="#pin" x="652.8" y="290.8"/><text x="652.8" y="293.9">E</text></g>
<g class="pin"><use href="#pin" x="754.7" y="338.2"/><text x="754.7" y="341.3">2</text></g>
<g class="pin"><use href="#pin" x="799.5" y="350.4"/><text x="799.5" y="353.5">F</text></g>
<g class="pin"><use href="#pin" x="856.7" y="346.7"/><text x="856.7" y="349.8">E</text></g>
<g class="pin"><use href="#pin" x="888.5" y="294.4"/><text x="888.5" y="297.5">2</text></g>
<g class="pin"><use href="#pin" x="882" y="294.4"/><text x="882" y="297.5">2</text></g>
<g class="pin"><use href="#pin" x="1143.5" y="407.5"/><text x="1143.5" y="410.6">E</text></g>
<g class="pin"><use href="#pin" x="1264.7" y="452.6"/><text x="1264.7" y="455.7">F</text></g>
<g class="pin"><use href="#pin" x="1277.3" y="476.2"/><text x="1277.3" y="479.3">E</text></g>
<g class="pin"><use href="#pin" x="1290" y="486"/><text x="1290" y="489.1">F</text></g>
<g class="pin"><use href="#pin" x="1309.2" y="498.8"/><text x="1309.2" y="501.9">F</text></g>
<g class="pin"><use href="#pin" x="1366.6" y="506.9"/><text x="1366.6" y="510">E</text></g>
<g class="pin"><use href="#pin" x="1385.6" y="508.6"/><text x="1385.6" y="511.7">E</text></g>
<g class="pin"><use href="#pin" x="1392.2" y="508.6"/><text x="1392.2" y="511.7">F</text></g>
<circle cx="9" cy="829.7" r="8.6" fill="#ee9340" stroke="#f0a560" stroke-width="0.8"/>
<path d="M5.2,829.7h7.6M9,825.9v7.6" stroke="#fff" stroke-width="1.2"/>

<!-- axes -->
<line x1="1520.5" y1="41" x2="1520.5" y2="877.5" stroke="#d9d9d9" stroke-width="0.8"/>
<line x1="0" y1="877.8" x2="1566" y2="877.8" stroke="#e6e6e6" stroke-width="0.8"/>
<line x1="1565.8" y1="41" x2="1565.8" y2="904" stroke="#e3e3e3" stroke-width="0.8"/>
<g class="ya">
<g stroke="#999" stroke-width="0.7">
<line x1="1523.5" x2="1526.5" y1="57" y2="57"/><line x1="1523.5" x2="1526.5" y1="106.1" y2="106.1"/><line x1="1523.5" x2="1526.5" y1="155.3" y2="155.3"/><line x1="1523.5" x2="1526.5" y1="204.4" y2="204.4"/><line x1="1523.5" x2="1526.5" y1="253.5" y2="253.5"/><line x1="1523.5" x2="1526.5" y1="302.6" y2="302.6"/><line x1="1523.5" x2="1526.5" y1="351.8" y2="351.8"/><line x1="1523.5" x2="1526.5" y1="400.9" y2="400.9"/><line x1="1523.5" x2="1526.5" y1="450" y2="450"/><line x1="1523.5" x2="1526.5" y1="499.1" y2="499.1"/><line x1="1523.5" x2="1526.5" y1="548.3" y2="548.3"/><line x1="1523.5" x2="1526.5" y1="597.4" y2="597.4"/><line x1="1523.5" x2="1526.5" y1="646.5" y2="646.5"/><line x1="1523.5" x2="1526.5" y1="695.6" y2="695.6"/><line x1="1523.5" x2="1526.5" y1="744.8" y2="744.8"/><line x1="1523.5" x2="1526.5" y1="793.9" y2="793.9"/><line x1="1523.5" x2="1526.5" y1="843" y2="843"/>
</g>
<text x="1529" y="60.2" textLength="32" lengthAdjust="spacingAndGlyphs">196,000</text>
<text x="1529" y="109.3" textLength="32" lengthAdjust="spacingAndGlyphs">195,000</text>
<text x="1529" y="158.5" textLength="32" lengthAdjust="spacingAndGlyphs">194,000</text>
<text x="1529" y="207.6" textLength="32" lengthAdjust="spacingAndGlyphs">193,000</text>
<text x="1529" y="256.7" textLength="32" lengthAdjust="spacingAndGlyphs">192,000</text>
<text x="1529" y="305.8" textLength="32" lengthAdjust="spacingAndGlyphs">191,000</text>
<text x="1529" y="355" textLength="32" lengthAdjust="spacingAndGlyphs">190,000</text>
<text x="1529" y="404.1" textLength="32" lengthAdjust="spacingAndGlyphs">189,000</text>
<text x="1529" y="453.2" textLength="32" lengthAdjust="spacingAndGlyphs">188,000</text>
<text x="1529" y="502.3" textLength="32" lengthAdjust="spacingAndGlyphs">187,000</text>
<text x="1529" y="551.5" textLength="32" lengthAdjust="spacingAndGlyphs">186,000</text>
<text x="1529" y="600.6" textLength="32" lengthAdjust="spacingAndGlyphs">185,000</text>
<text x="1529" y="649.7" textLength="32" lengthAdjust="spacingAndGlyphs">184,000</text>
<text x="1529" y="698.8" textLength="32" lengthAdjust="spacingAndGlyphs">183,000</text>
<text x="1529" y="748" textLength="32" lengthAdjust="spacingAndGlyphs">182,000</text>
<text x="1529" y="797.1" textLength="32" lengthAdjust="spacingAndGlyphs">181,000</text>
<text x="1529" y="846.2" textLength="32" lengthAdjust="spacingAndGlyphs">180,000</text>
</g>
<rect x="1523" y="565.3" width="42" height="14" rx="2" fill="#151515"/>
<text x="1528" y="575.6" font-size="9" font-weight="bold" fill="#fff" textLength="32" lengthAdjust="spacingAndGlyphs">185,510</text>

<g class="xa">
<text x="22" y="871.5">19:30</text><text x="98" y="871.5">21:30</text><text x="123" y="871.5">30</text>
<text x="200" y="871.5">17:30</text><text x="276" y="871.5">19:30</text><text x="353" y="871.5">21:30</text><text x="379" y="871.5">Okt</text>
<text x="455" y="871.5">17:30</text><text x="531" y="871.5">19:30</text><text x="607" y="871.5">21:30</text><text x="633" y="871.5">2</text>
<text x="710" y="871.5">17:30</text><text x="786" y="871.5">19:30</text><text x="863" y="871.5">21:30</text><text x="889" y="871.5">3</text>
<text x="965" y="871.5">17:30</text><text x="1041" y="871.5">19:30</text><text x="1118" y="871.5">21:30</text><text x="1144" y="871.5">6</text>
<text x="1220" y="871.5">17:30</text><text x="1296" y="871.5">19:30</text><text x="1373" y="871.5">21:30</text>
</g>
<g stroke="#999" stroke-width="0.7">
<line x1="22" x2="22" y1="874.8" y2="877.5"/><line x1="98" x2="98" y1="874.8" y2="877.5"/><line x1="123" x2="123" y1="874.8" y2="877.5"/><line x1="200" x2="200" y1="874.8" y2="877.5"/><line x1="276" x2="276" y1="874.8" y2="877.5"/><line x1="353" x2="353" y1="874.8" y2="877.5"/><line x1="379" x2="379" y1="874.8" y2="877.5"/><line x1="455" x2="455" y1="874.8" y2="877.5"/><line x1="531" x2="531" y1="874.8" y2="877.5"/><line x1="607" x2="607" y1="874.8" y2="877.5"/><line x1="633" x2="633" y1="874.8" y2="877.5"/><line x1="710" x2="710" y1="874.8" y2="877.5"/><line x1="786" x2="786" y1="874.8" y2="877.5"/><line x1="863" x2="863" y1="874.8" y2="877.5"/><line x1="889" x2="889" y1="874.8" y2="877.5"/><line x1="965" x2="965" y1="874.8" y2="877.5"/><line x1="1041" x2="1041" y1="874.8" y2="877.5"/><line x1="1118" x2="1118" y1="874.8" y2="877.5"/><line x1="1144" x2="1144" y1="874.8" y2="877.5"/><line x1="1220" x2="1220" y1="874.8" y2="877.5"/><line x1="1296" x2="1296" y1="874.8" y2="877.5"/><line x1="1373" x2="1373" y1="874.8" y2="877.5"/>
</g>

<!-- toolbar -->
<rect x="707.5" y="882" width="29" height="17.5" rx="4" fill="#1a73e8"/>
<rect x="948" y="881.5" width="27" height="19" rx="4" fill="#e9ecf1"/>
<g class="tb">
<text x="557" y="894">Max</text><text x="605" y="894">Intraday</text><text x="652" y="894">1W</text><text x="686.5" y="894">1M</text>
<text x="721.5" y="894" fill="#fff" font-weight="bold">3M</text><text x="757" y="894">6M</text><text x="789.5" y="894">1J</text><text x="821" y="894">3J</text>
<text x="852.5" y="894">5J</text><text x="887" y="894">10J</text><text x="925" y="894">YTD</text>
</g>
<path d="M957,896l1-3.5 7-7 2.5,2.5-7,7z M964,886.5l2.5,2.5" fill="none" stroke="#333" stroke-width="0.8"/>
<rect x="1480" y="880" width="23" height="23" rx="2" fill="#1a73e8"/>
<path d="M1487.5,891.5h8M1491.5,887.5v8" stroke="#fff" stroke-width="1.3"/>
<rect x="1506" y="880" width="24" height="23" rx="2" fill="#e8edf3"/>
<rect x="1533" y="880" width="24" height="23" rx="2" fill="#e8edf3"/>
<g fill="none" stroke="#222" stroke-width="0.9">
<rect x="1513.5" y="887.5" width="9" height="8"/><path d="M1513.5,890.5h9M1516.5,887.5v3M1519.5,887.5v3"/>
<circle cx="1544" cy="890.5" r="3.6"/><path d="M1546.6,893.1l2.6,2.6M1542.2,890.5h3.6M1544,888.7v3.6"/>
</g>
</svg>
</body></html>
